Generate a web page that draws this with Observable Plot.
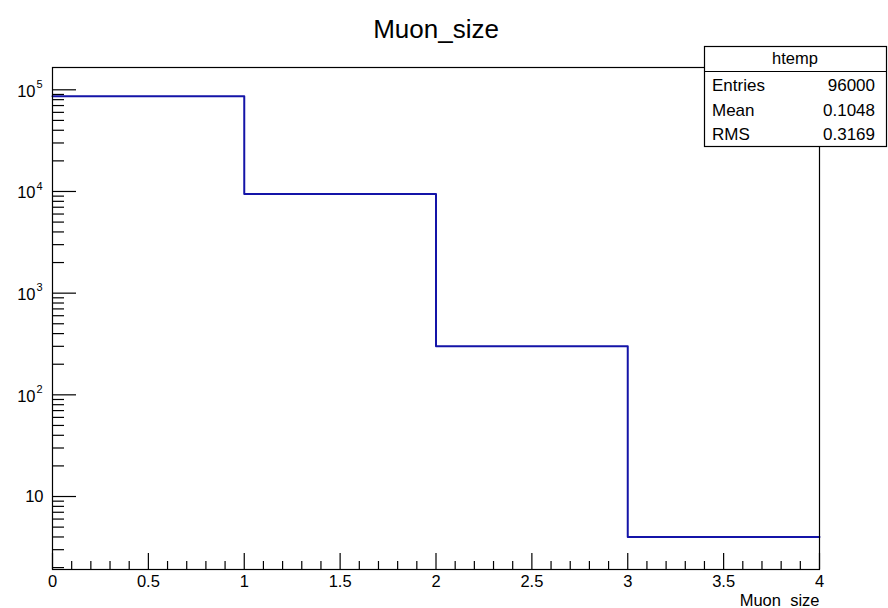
<!DOCTYPE html>
<html>
<head>
<meta charset="utf-8">
<script src="https://cdn.jsdelivr.net/npm/d3@7"></script>
<script src="https://cdn.jsdelivr.net/npm/@observablehq/plot@0.6"></script>
<style>
  html, body { margin: 0; padding: 0; background: #fff; }
  #chart svg { display: block; }
</style>
</head>
<body>
<div id="chart"></div>
<script>
// Histogram of Muon_size (TTree "htemp"), log-scale counts per unit bin
const binEdges = [0, 1, 2, 3, 4];
const binCounts = [86247, 9449, 300, 4];

// Statistics box contents
const statsTitle = "htemp";
const statsNames = ["Entries", "Mean", "RMS"];
const statsValues = ["96000", "0.1048", "0.3169"];

// Axis ticks and labels
const xMajorTicks = [0, 0.5, 1, 1.5, 2, 2.5, 3, 3.5, 4];
const yDecades = [10, 100, 1000, 10000, 100000];
const chartTitle = "Muon_size";
const xTitle = "Muon_size";

const W = 888, H = 608;
const mL = 52, mR = 69, mT = 67, mB = 39;
const frameW = W - mL - mR, frameH = H - mT - mB;
const yDomain = [1.915, 1.657e5];

// step outline: one point per left edge, plus the last right edge
const steps = binEdges.map((e, i) => ({x: e, y: binCounts[Math.min(i, binCounts.length - 1)]}));

const xMinorTicks = d3.range(0, 40.5, 1).map(v => v / 10).filter(v => !xMajorTicks.includes(v));
const yMinorTicks = [];
for (let p = 0; p <= 5; p++) for (let m = 2; m <= 9; m++) {
  const v = m * Math.pow(10, p);
  if (v > yDomain[0] && v < yDomain[1]) yMinorTicks.push(v);
}

const font = "'Liberation Sans', Arial, Helvetica, sans-serif";

const chart = Plot.plot({
  width: W, height: H,
  marginLeft: mL, marginRight: mR, marginTop: mT, marginBottom: mB,
  style: {fontFamily: font, color: "#000", background: "#fff", overflow: "visible"},
  x: {domain: [0, 4], axis: null},
  y: {type: "log", domain: yDomain, axis: null},
  marks: [
    Plot.line(steps, {x: "x", y: "y", curve: "step-after", stroke: "#1414a8", strokeWidth: 2}),
    Plot.frame({stroke: "#000", strokeWidth: 1.2}),
    // inward ticks along the bottom
    Plot.tickX(xMajorTicks, {x: d => d, insetTop: frameH - 16, stroke: "#000", strokeWidth: 1.2}),
    Plot.tickX(xMinorTicks, {x: d => d, insetTop: frameH - 8, stroke: "#000", strokeWidth: 1.2}),
    // inward ticks along the left
    Plot.tickY(yDecades, {y: d => d, insetRight: frameW - 24, stroke: "#000", strokeWidth: 1.2}),
    Plot.tickY(yMinorTicks, {y: d => d, insetRight: frameW - 12, stroke: "#000", strokeWidth: 1.2}),
    Plot.axisX({ticks: xMajorTicks, tickSize: 0, tickPadding: 6, fontSize: 16.5, label: null, tickFormat: d => String(d)}),
    // y labels: plain "10", then 10 with superscript exponent
    Plot.text(yDecades.filter(d => d === 10), {y: d => d, frameAnchor: "left", text: () => "10", textAnchor: "end", dx: -9, dy: 0, fontSize: 16.5}),
    Plot.text(yDecades.filter(d => d > 10), {y: d => d, frameAnchor: "left", text: () => "10", textAnchor: "end", dx: -17, dy: 1.5, fontSize: 16.5}),
    Plot.text(yDecades.filter(d => d > 10), {y: d => d, frameAnchor: "left", text: d => String(Math.round(Math.log10(d))), textAnchor: "start", dx: -16, dy: -5.5, fontSize: 11}),
    // title and axis title
    Plot.text([chartTitle], {frameAnchor: "top", text: d => d, dy: -30, lineAnchor: "bottom", fontSize: 26}),
    Plot.text([xTitle], {frameAnchor: "bottom-right", text: d => d, dy: 36.5, lineAnchor: "bottom", textAnchor: "end", fontSize: 16.5})
  ]
});

document.getElementById("chart").appendChild(chart);

// statistics box in the top-right corner, overlapping the frame
const svg = d3.select(chart);
const box = {x: 704, y: 46, w: 182, h: 100, header: 25};
const g = svg.append("g").attr("font-family", font).attr("fill", "#000").attr("text-anchor", "start");
g.append("rect").attr("x", box.x + 0.5).attr("y", box.y + 0.5).attr("width", box.w).attr("height", box.h)
  .attr("fill", "#fff").attr("stroke", "#000").attr("stroke-width", 1.2);
g.append("line").attr("x1", box.x).attr("x2", box.x + box.w).attr("y1", box.y + box.header + 0.5).attr("y2", box.y + box.header + 0.5)
  .attr("stroke", "#000").attr("stroke-width", 1.2);
g.append("text").attr("x", box.x + box.w / 2).attr("y", box.y + 18).attr("text-anchor", "middle").attr("font-size", 16.5).text(statsTitle);
statsNames.forEach((name, i) => {
  const yb = box.y + 45 + i * 24.5;
  g.append("text").attr("x", box.x + 8).attr("y", yb).attr("text-anchor", "start").attr("font-size", 17).text(name);
  g.append("text").attr("x", box.x + 171).attr("y", yb).attr("text-anchor", "end").attr("font-size", 17).text(statsValues[i]);
});
</script>
</body>
</html>
